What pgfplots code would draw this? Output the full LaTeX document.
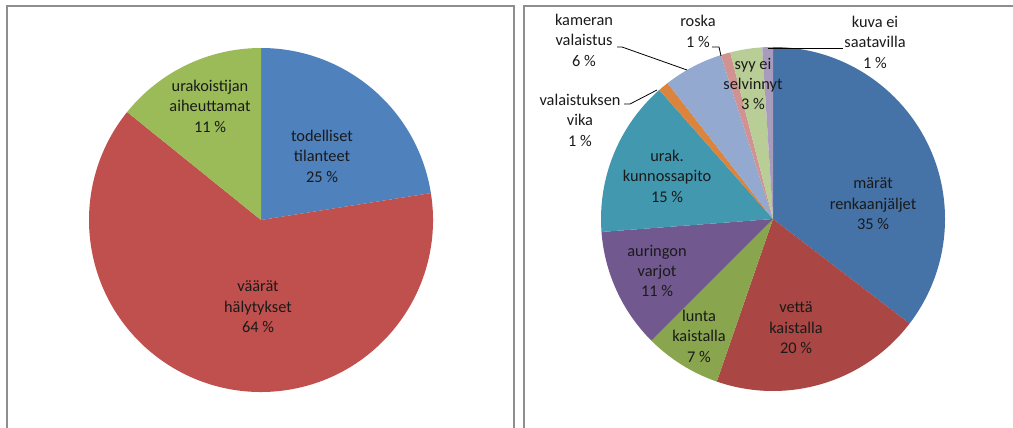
\documentclass[border=0pt]{standalone}
\usepackage{fontspec}
\setmainfont{Carlito}
\usepackage{pgfplots}
\usepackage{pgfplotstable}
\pgfplotsset{compat=1.18}

% Excel 2007 colours
\definecolor{pA}{HTML}{4F81BD}
\definecolor{pB}{HTML}{C0504D}
\definecolor{pC}{HTML}{9BBB59}
\definecolor{qA}{HTML}{4572A7}
\definecolor{qB}{HTML}{AA4643}
\definecolor{qC}{HTML}{89A54E}
\definecolor{qD}{HTML}{71588F}
\definecolor{qE}{HTML}{4198AF}
\definecolor{qF}{HTML}{DB843D}
\definecolor{qG}{HTML}{93A9CF}
\definecolor{qH}{HTML}{D19392}
\definecolor{qI}{HTML}{B9CD96}
\definecolor{qJ}{HTML}{A99BBD}
\definecolor{frame}{HTML}{8E8E8E}
\definecolor{txt}{HTML}{1A1A1A}

% slices clockwise from 12 o'clock, share of the full circle in percent
\pgfplotstableread{
pct  col
22.5 pA
63.3 pB
14.2 pC
}\lefttab
\pgfplotstableread{
pct  col
35.4 qA
19.9 qB
7.2  qC
11.3 qD
14.7 qE
1.0  qF
5.6  qG
0.9  qH
3.0  qI
1.0  qJ
}\righttab

% #1,#2 centre in axis units, #3 table
\newcommand\drawpie[3]{%
  \pgfplotstablegetrowsof{#3}%
  \pgfmathtruncatemacro\pieN{\pgfplotsretval-1}%
  \def\piecum{0}%
  \pgfplotsforeachungrouped \pieI in {0,...,\pieN}{%
    \pgfplotstablegetelem{\pieI}{pct}\of{#3}\let\piep\pgfplotsretval
    \pgfplotstablegetelem{\pieI}{col}\of{#3}\let\piecol\pgfplotsretval
    \pgfmathsetmacro\piea{90-3.6*\piecum}%
    \pgfmathsetmacro\pieb{90-3.6*(\piecum+\piep)}%
    \pgfmathsetmacro\piex{#1+172*cos(\piea)}%
    \pgfmathsetmacro\piey{#2+172*sin(\piea)}%
    \edef\pietemp{\noexpand\fill[\piecol] (axis cs:#1,#2) -- (axis cs:\piex,\piey)
      arc[start angle=\piea, end angle=\pieb, radius=172bp] -- cycle;}%
    \pietemp
    \pgfmathsetmacro\piecum{\piecum+\piep}%
  }%
}

\begin{document}
\begin{tikzpicture}[
  lab/.style={font=\fontsize{16.4}{20.5}\selectfont, text=txt, align=center, inner sep=0pt},
]
\useasboundingbox (0,0) rectangle (1013bp,428bp);
\clip (0,0) rectangle (1013bp,428bp);
\begin{axis}[
  at={(0,0)}, anchor=south west,
  scale only axis, width=1013bp, height=428bp,
  xmin=0, xmax=1013, ymin=0, ymax=428,
  hide axis, clip=false,
]
% chart frames
\draw[frame, line width=1.5bp] (axis cs:7,-20) -- (axis cs:7,422) -- (axis cs:514,422) -- (axis cs:514,-20);
\draw[frame, line width=1.5bp] (axis cs:524,-20) -- (axis cs:524,422) -- (axis cs:1030,422);

\drawpie{261}{208}{\lefttab}
\drawpie{773}{209}{\righttab}

% left labels
\node[lab] at (axis cs:210,322) {urakoistijan\\aiheuttamat\\11 \%};
\node[lab] at (axis cs:322,272) {todelliset\\tilanteet\\25 \%};
\node[lab] at (axis cs:258,121) {väärät\\hälytykset\\64 \%};

% right labels
\node[lab] at (axis cs:873,224) {märät\\renkaanjäljet\\35 \%};
\node[lab] at (axis cs:796,100) {vettä\\kaistalla\\20 \%};
\node[lab] at (axis cs:699,92) {lunta\\kaistalla\\7 \%};
\node[lab] at (axis cs:657,157) {auringon\\varjot\\11 \%};
\node[lab] at (axis cs:667,252) {urak.\\kunnossapito\\15 \%};
\node[lab] at (axis cs:580,308) {valaistuksen\\vika\\1 \%};
\node[lab] at (axis cs:584,388) {kameran\\valaistus\\6 \%};
\node[lab] at (axis cs:698,396.5) {roska\\1 \%};
\node[lab] at (axis cs:753,344) {syy ei\\selvinnyt\\3 \%};
\node[lab] at (axis cs:875,386) {kuva ei\\saatavilla\\1 \%};

% leader lines
\draw[black, line width=0.8bp] (axis cs:624,324) -- (axis cs:630,324) -- (axis cs:657,338);
\draw[black, line width=0.8bp] (axis cs:617,381) -- (axis cs:622,381) -- (axis cs:687,358);
\draw[black, line width=0.8bp] (axis cs:712,381) -- (axis cs:719,381) -- (axis cs:721,372);
\draw[black, line width=0.8bp] (axis cs:768,380) -- (axis cs:843,380);
\end{axis}
\end{tikzpicture}
\end{document}
